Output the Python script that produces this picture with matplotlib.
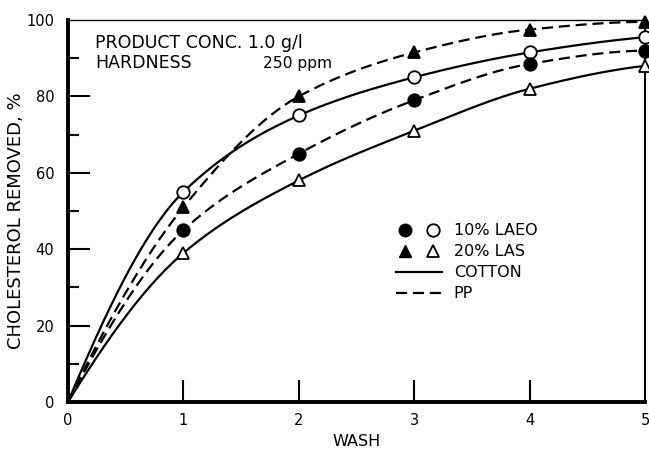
import numpy as np
import matplotlib
matplotlib.use("Agg")
import matplotlib.pyplot as plt
from matplotlib.lines import Line2D
from matplotlib.legend_handler import HandlerTuple

wash = [0, 1, 2, 3, 4, 5]
laeo_cotton = [0, 55, 75, 85, 91.5, 95.5]   # open circles, solid
laeo_pp     = [0, 45, 65, 79, 88.5, 92]     # filled circles, dashed
las_cotton  = [0, 39, 58, 71, 82, 88]       # open triangles, solid
las_pp      = [0, 51, 80, 91.5, 97.5, 99.5] # filled triangles, dashed

xticks = [0, 1, 2, 3, 4, 5]
yticks = [0, 20, 40, 60, 80, 100]
legend_labels = ['10% LAEO', '20% LAS', 'COTTON', 'PP']


def pchip(x, y, xs):
    x = np.asarray(x, float); y = np.asarray(y, float)
    h = np.diff(x); d = np.diff(y) / h
    n = len(x); m = np.zeros(n)
    for k in range(1, n - 1):
        if d[k - 1] * d[k] > 0:
            w1 = 2 * h[k] + h[k - 1]; w2 = h[k] + 2 * h[k - 1]
            m[k] = (w1 + w2) / (w1 / d[k - 1] + w2 / d[k])
    m[0] = ((2 * h[0] + h[1]) * d[0] - h[0] * d[1]) / (h[0] + h[1])
    if np.sign(m[0]) != np.sign(d[0]):
        m[0] = 0
    elif np.sign(d[0]) != np.sign(d[1]) and abs(m[0]) > abs(3 * d[0]):
        m[0] = 3 * d[0]
    m[-1] = ((2 * h[-1] + h[-2]) * d[-1] - h[-1] * d[-2]) / (h[-1] + h[-2])
    if np.sign(m[-1]) != np.sign(d[-1]):
        m[-1] = 0
    idx = np.clip(np.searchsorted(x, xs) - 1, 0, n - 2)
    t = (xs - x[idx]) / h[idx]
    h00 = 2 * t**3 - 3 * t**2 + 1; h10 = t**3 - 2 * t**2 + t
    h01 = -2 * t**3 + 3 * t**2; h11 = t**3 - t**2
    return h00 * y[idx] + h10 * h[idx] * m[idx] + h01 * y[idx + 1] + h11 * h[idx] * m[idx + 1]


plt.rcParams['font.family'] = ['DejaVu Sans']
fig = plt.figure(figsize=(6.49, 4.51), dpi=100)
ax = fig.add_axes([0.1048, 0.1086, 0.8890, 0.8471])

xs = np.linspace(0, 5, 300)
lw = 1.6
dash = (0, (5, 2.6))
series = [
    (laeo_cotton, '-', 'o', 'white', 9),
    (laeo_pp, dash, 'o', 'black', 9),
    (las_cotton, '-', '^', 'white', 8),
    (las_pp, dash, '^', 'black', 8),
]
for ys, ls, mk, fc, ms in series:
    ax.plot(xs, pchip(wash, ys, xs), color='black', lw=lw, linestyle=ls, zorder=2)
    ax.plot(wash[1:], ys[1:], linestyle='none', marker=mk, ms=ms,
            mfc=fc, mec='black', mew=1.3, zorder=3, clip_on=False)

ax.set_xlim(0, 5)
ax.set_ylim(0, 100)
ax.set_xticks(xticks)
ax.set_yticks(yticks)
ax.set_yticks([10, 30, 50, 70, 90], minor=True)
ax.tick_params(axis='y', which='major', direction='in', length=16, width=1.5,
               labelsize=10.5, pad=10)
ax.tick_params(axis='y', which='minor', direction='in', length=8, width=1.5)
ax.tick_params(axis='x', which='major', direction='in', length=16, width=1.5,
               labelsize=10.5, pad=8)
ax.xaxis.get_major_ticks()[0].tick1line.set_visible(False)
ax.xaxis.get_major_ticks()[-1].tick1line.set_visible(False)
ax.yaxis.get_major_ticks()[0].tick1line.set_visible(False)
ax.yaxis.get_major_ticks()[-1].tick1line.set_visible(False)

ax.spines['left'].set_linewidth(2.8)
ax.spines['bottom'].set_linewidth(2.8)
ax.spines['top'].set_linewidth(1.0)
ax.spines['right'].set_linewidth(1.5)

ax.set_xlabel('WASH', fontsize=11.5, labelpad=4)
ax.set_ylabel('CHOLESTEROL REMOVED, %', fontsize=13)
ax.yaxis.set_label_coords(-0.075, 0.474)

ax.text(0.234, 94, 'PRODUCT CONC. 1.0 g/l', fontsize=12.5, va='center', ha='left')
ax.text(0.234, 88.7, 'HARDNESS', fontsize=12.5, va='center', ha='left')
ax.text(1.69, 88.7, '250 ppm', fontsize=11.2, va='center', ha='left')

handles = [
    (Line2D([], [], ls='none', marker='o', ms=9, mfc='black', mec='black'),
     Line2D([], [], ls='none', marker='o', ms=9, mfc='white', mec='black', mew=1.3)),
    (Line2D([], [], ls='none', marker='^', ms=8, mfc='black', mec='black'),
     Line2D([], [], ls='none', marker='^', ms=8, mfc='white', mec='black', mew=1.3)),
    Line2D([], [], color='black', lw=lw),
    Line2D([], [], color='black', lw=lw, linestyle=dash),
]
ax.legend(handles, legend_labels,
          handler_map={tuple: HandlerTuple(ndivide=None, pad=0.6)},
          loc='upper left', bbox_to_anchor=(0.558, 0.485), frameon=False,
          fontsize=11.5, handlelength=2.85, handletextpad=0.75, labelspacing=0.38,
          borderaxespad=0)

fig.savefig('out.png', dpi=100)
